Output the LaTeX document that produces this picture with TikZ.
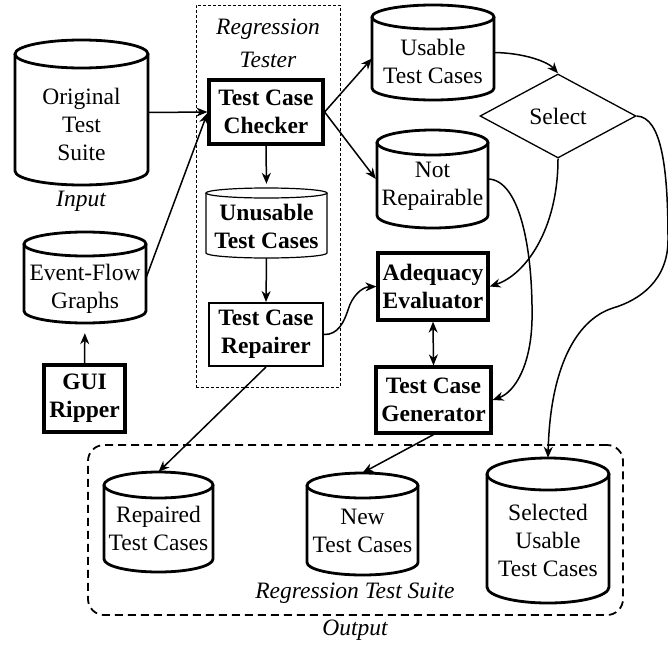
\documentclass[tikz,border=0pt]{standalone}
\usepackage{fontspec}
\setmainfont{LiberationSerif}[Extension=.ttf, UprightFont=*-Regular, BoldFont=*-Bold, ItalicFont=*-Italic, BoldItalicFont=*-BoldItalic]
\usetikzlibrary{arrows.meta,shapes.geometric}
\newcommand{\figfont}{\fontsize{23.5}{28}\selectfont}
\tikzset{
  txt/.style={align=center, inner sep=0pt, font=\figfont},
  itxt/.style={align=center, inner sep=0pt, font=\figfont\itshape},
  tbox/.style={draw, align=center, inner sep=0pt, font=\figfont\bfseries},
  heavy/.style={line width=3.2pt},
  conn/.style={line width=1.5pt, -{Stealth[length=11pt,width=9pt,inset=3.5pt]}},
  dconn/.style={line width=1.5pt, {Stealth[length=11pt,width=9pt,inset=3.5pt]}-{Stealth[length=11pt,width=9pt,inset=3.5pt]}},
}
\newcommand{\dbcyl}[9]{%
  \pgfmathsetmacro{\cylcx}{(#2+#4)/2}%
  \pgfmathsetmacro{\cylrx}{(#4-#2)/2}%
  \draw[line width=#7] (#2,-#3-#6) -- (#2,-#5+#6) arc[start angle=180,end angle=360,x radius=\cylrx,y radius=#6] -- (#4,-#3-#6);
  \draw[line width=#7] (\cylcx,-#3-#6) ellipse[x radius=\cylrx,y radius=#6];
  \node[inner sep=0pt,minimum width={(#4-#2)*1pt},minimum height={(#5-#3)*1pt}] (#1) at (\cylcx,{-(#3+#5)/2}) {};
  \node[txt] at (\cylcx,-#8) {#9};}
\begin{document}
\begin{tikzpicture}[x=1pt,y=1pt]
\useasboundingbox (0,0) rectangle (668,-645);
% containers
\node[draw, line width=0.8pt, dash pattern=on 3pt off 2pt, minimum width=144pt, minimum height=382pt, inner sep=0pt] (tester) at (268,-196) {};
\node[itxt] (testertitle) at (268,-43) {Regression\\[5pt]Tester};
\node[draw, line width=1.8pt, dash pattern=on 8pt off 5pt, rounded corners=16pt, minimum width=535pt, minimum height=170pt, inner sep=0pt] (outbox) at (355.5,-530) {};
\node[itxt] (suitelabel) at (355,-593) {Regression Test Suite};
\node[itxt] (outlabel) at (355,-630) {Output};
% cylinders
\dbcyl{orig}{15}{40}{148}{185}{14}{2.8pt}{124}{Original\\Test\\Suite}
\node[itxt] (inlabel) at (81,-201) {Input};
\dbcyl{efg}{24}{232}{146}{323}{12}{2.8pt}{289}{Event-Flow\\Graphs}
\dbcyl{unusable}{206}{188}{327}{258}{5}{1.2pt}{226}{\textbf{Unusable}\\\textbf{Test Cases}}
\dbcyl{usable}{372}{5}{494}{100}{12}{2.8pt}{61}{Usable\\Test Cases}
\dbcyl{notrep}{377}{130}{488}{228}{12.5}{2.8pt}{186}{Not\\Repairable}
\dbcyl{repaired}{104}{472}{213}{572}{13}{2.8pt}{528.5}{Repaired\\Test Cases}
\dbcyl{newtc}{307}{473}{418}{575}{12.5}{2.8pt}{531}{New\\Test Cases}
\dbcyl{selected}{487}{458}{609}{603}{16}{2.8pt}{540}{Selected\\Usable\\Test Cases}
% boxes
\node[tbox, heavy, minimum width=114pt, minimum height=64pt] (checker) at (266,-112) {Test Case\\Checker};
\node[tbox, line width=2pt, minimum width=114pt, minimum height=63pt] (repairer) at (266,-334.5) {Test Case\\Repairer};
\node[tbox, heavy, minimum width=81pt, minimum height=67pt] (ripper) at (84.5,-398.5) {GUI\\Ripper};
\node[tbox, heavy, minimum width=110pt, minimum height=67pt] (adequacy) at (433,-286.5) {Adequacy\\Evaluator};
\node[tbox, heavy, minimum width=115pt, minimum height=66pt] (generator) at (433.5,-400) {Test Case\\Generator};
\node[draw, diamond, line width=1.3pt, minimum width=156pt, minimum height=84pt, aspect=1.86, inner sep=0pt, font=\figfont] (select) at (558,-116) {Select};
% connectors
\draw[conn] (orig.east) -- (checker.west);
\draw[conn] (efg.east) -- ([yshift=-1pt]checker.west);
\draw[conn, shorten >=10pt] (ripper.north) -- (efg.south);
\draw[conn] (checker.east) -- ([yshift=-6pt]usable.west);
\draw[conn] (checker.east) -- ([xshift=-1pt]notrep.west);
\draw[conn, shorten >=4pt] (checker.south) -- (unusable.north);
\draw[conn] (unusable.south) -- (repairer.north);
\draw[conn] (usable.east) .. controls (525,-53) and (548,-62) .. (select.north);
\draw[conn] (repairer.east) .. controls (338,-335) and (344,-322) .. (348,-310) .. controls (352,-296) and (362,-287) .. (adequacy.west);
\draw[conn] (select.south) .. controls (558,-230) and (525,-275) .. (adequacy.east);
\draw[conn] (notrep.east) .. controls (520,-180) and (533,-250) .. (532,-320) .. controls (531,-365) and (515,-392) .. (generator.east);
\draw[dconn] (adequacy.south) -- (generator.north);
\draw[conn] (select.east) .. controls (662,-117) and (668,-170) .. (668,-240) .. controls (668,-280) and (640,-300) .. (613,-308) .. controls (575,-320) and (550,-370) .. (selected.north);
\draw[conn] (repairer.south) -- (repaired.north);
\draw[conn] (generator.south) -- (newtc.north);
\end{tikzpicture}
\end{document}
